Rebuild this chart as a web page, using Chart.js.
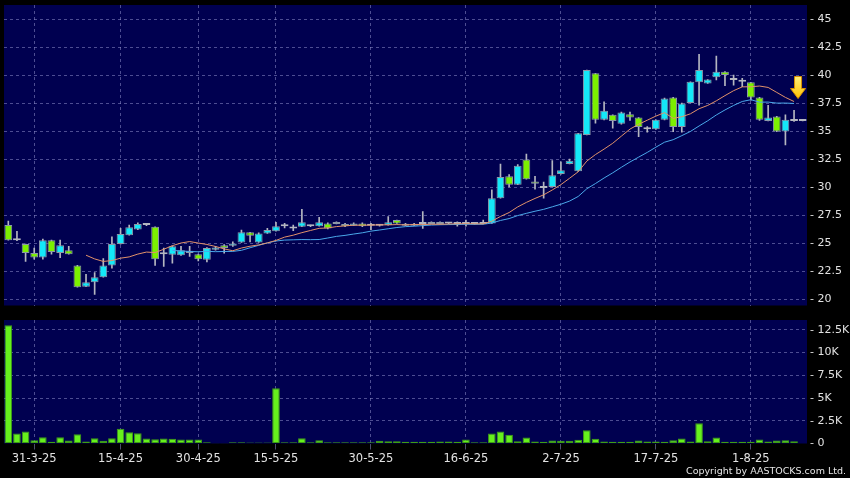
<!DOCTYPE html>
<html>
<head>
<meta charset="utf-8">
<script src="https://cdn.jsdelivr.net/npm/chart.js@4.4.1/dist/chart.umd.min.js"></script>
<style>
  html, body { margin: 0; padding: 0; background: #000; }
  #wrap { position: relative; width: 850px; height: 478px; overflow: hidden; background: #000; }
  #boxHarga { position: absolute; left: 0; top: 0; }
  #boxVolume { position: absolute; left: 0; top: 312px; }
  #copy { position: absolute; right: 4px; top: 465px; color: #e6e6e6;
          font: 9.5px "DejaVu Sans", sans-serif; line-height: 12px; white-space: nowrap; }
</style>
</head>
<body>
<div id="wrap">
  <canvas id="boxHarga" width="850" height="310"></canvas>
  <canvas id="boxVolume" width="850" height="166"></canvas>
  <div id="copy">Copyright by AASTOCKS.com Ltd.</div>
</div>
<script>
// ============================================
// DATA: candle harian (HK), 26-3-25 s/d 11-8-25
// ============================================
const tanggal = [
  "26-3-25","27-3-25","28-3-25","31-3-25",
  "1-4-25","2-4-25","3-4-25","7-4-25","8-4-25","9-4-25","10-4-25","11-4-25","14-4-25","15-4-25",
  "16-4-25","17-4-25","22-4-25","23-4-25","24-4-25","25-4-25","28-4-25","29-4-25","30-4-25",
  "2-5-25","6-5-25","7-5-25","8-5-25","9-5-25","12-5-25","13-5-25","14-5-25","15-5-25",
  "16-5-25","19-5-25","20-5-25","21-5-25","22-5-25","23-5-25","26-5-25","27-5-25","28-5-25","29-5-25","30-5-25",
  "2-6-25","3-6-25","4-6-25","5-6-25","6-6-25","9-6-25","10-6-25","11-6-25","12-6-25","13-6-25","16-6-25",
  "17-6-25","18-6-25","19-6-25","20-6-25","23-6-25","24-6-25","25-6-25","26-6-25","27-6-25","30-6-25",
  "2-7-25","3-7-25","4-7-25","7-7-25","8-7-25","9-7-25","10-7-25","11-7-25","14-7-25","15-7-25","16-7-25","17-7-25",
  "18-7-25","21-7-25","22-7-25","23-7-25","24-7-25","25-7-25","28-7-25","29-7-25","30-7-25","31-7-25",
  "1-8-25","4-8-25","5-8-25","6-8-25","7-8-25","8-8-25","11-8-25"
];

const tanggalTick = ["31-3-25","15-4-25","30-4-25","15-5-25","30-5-25","16-6-25","2-7-25","17-7-25","1-8-25"];

const openHarga = [
  26.6, 25.25, 24.9, 24.1, 23.7, 25.25, 24.1, 24.35, 23.0, 21.1,
  21.5, 21.95, 23.0, 24.9, 25.7, 26.2, 26.6, 26.45, 24.0, 23.95,
  23.9, 24.1, 24.0, 23.5, 24.4, 24.8, 24.75, 25.05, 25.95, 25.05,
  25.85, 26.05, 26.5, 26.3, 26.45, 26.5, 26.5, 26.75, 26.7, 26.7,
  26.55, 26.75, 26.55, 26.55, 26.6, 27.05, 26.7, 26.55, 26.7, 26.7,
  26.85, 26.75, 26.7, 26.7, 26.7, 26.7, 26.75, 29.0, 30.95, 30.2,
  32.45, 30.5, 29.9, 30.0, 31.15, 32.05, 31.4, 34.65, 40.15, 36.0,
  36.45, 35.65, 36.5, 36.2, 35.15, 35.15, 36.0, 38.0, 35.35, 37.5,
  39.35, 39.25, 39.8, 40.3, 39.55, 39.4, 39.35, 38.0, 35.9, 36.3,
  34.95, 35.9, 35.9
];
const highHarga = [
  26.95, 26.05, 24.9, 24.55, 25.35, 25.25, 25.25, 24.7, 23.0, 22.2,
  22.35, 23.6, 25.55, 26.3, 26.6, 26.8, 26.65, 26.45, 24.55, 24.75,
  24.7, 24.7, 24.0, 24.6, 24.7, 24.85, 25.1, 26.15, 25.95, 25.9,
  26.3, 26.85, 26.75, 26.6, 28.0, 26.6, 27.3, 26.8, 26.9, 26.75,
  26.8, 26.8, 26.75, 26.6, 27.35, 27.05, 26.75, 26.75, 27.8, 26.9,
  26.9, 26.8, 26.9, 27.05, 26.75, 27.05, 29.75, 32.05, 31.1, 32.0,
  32.95, 30.95, 30.45, 32.35, 32.25, 32.5, 34.8, 40.45, 40.15, 37.6,
  36.45, 36.7, 36.7, 36.2, 35.4, 36.0, 37.95, 38.0, 37.5, 39.4,
  41.85, 39.6, 41.7, 40.3, 40.0, 39.7, 39.35, 38.0, 37.3, 36.3,
  36.45, 36.85, 35.9
];
const lowHarga = [
  25.25, 25.2, 23.35, 23.55, 23.55, 24.0, 23.7, 24.0, 21.05, 21.1,
  20.4, 21.95, 22.75, 24.9, 25.7, 26.2, 26.55, 23.0, 22.9, 23.2,
  23.9, 23.8, 23.4, 23.3, 24.35, 24.1, 24.7, 25.05, 25.1, 25.05,
  25.85, 26.05, 26.35, 26.1, 26.45, 26.45, 26.5, 26.25, 26.7, 26.45,
  26.55, 26.45, 26.2, 26.5, 26.6, 26.75, 26.55, 26.55, 26.3, 26.7,
  26.7, 26.7, 26.5, 26.5, 26.65, 26.7, 26.75, 29.0, 30.0, 30.2,
  30.7, 29.8, 29.0, 30.0, 31.15, 32.05, 31.4, 34.65, 35.7, 36.0,
  35.25, 35.6, 35.95, 34.5, 34.9, 35.15, 36.0, 34.95, 34.9, 37.5,
  37.3, 39.25, 39.55, 39.05, 39.1, 38.95, 37.75, 35.95, 35.9, 34.95,
  33.75, 35.85, 35.9
];
const closeHarga = [
  25.25, 25.25, 24.1, 23.7, 25.25, 24.2, 24.8, 24.0, 21.05, 21.5,
  21.95, 23.0, 24.9, 25.8, 26.4, 26.7, 26.6, 23.55, 24.0, 24.7,
  24.35, 24.3, 23.55, 24.55, 24.6, 24.55, 24.95, 25.95, 25.65, 25.85,
  26.15, 26.5, 26.5, 26.3, 26.85, 26.5, 26.85, 26.3, 26.85, 26.5,
  26.75, 26.5, 26.55, 26.55, 26.85, 26.75, 26.55, 26.7, 26.7, 26.85,
  26.7, 26.75, 26.7, 26.7, 26.7, 26.7, 29.0, 30.9, 30.2, 31.9,
  30.7, 30.3, 29.9, 31.05, 31.5, 32.35, 34.8, 40.45, 36.0, 36.8,
  35.9, 36.65, 36.2, 35.35, 35.15, 36.0, 37.9, 35.35, 37.45, 39.4,
  40.45, 39.6, 40.3, 40.0, 39.55, 39.4, 38.0, 36.0, 36.2, 34.95,
  36.0, 35.9, 35.9
];

// volume dalam ribuan saham (hari terakhir belum ada transaksi)
const volumeK = [
  13.0, 1.1, 1.32, 0.36, 0.69, 0.18, 0.69, 0.33, 1.02, 0.22,
  0.58, 0.29, 0.58, 1.61, 1.24, 1.13, 0.55, 0.47, 0.55, 0.51,
  0.44, 0.44, 0.44, 0.14, 0.04, 0.04, 0.14, 0.14, 0.1, 0.1,
  0.1, 6.09, 0.14, 0.14, 0.58, 0.14, 0.36, 0.14, 0.14, 0.14,
  0.14, 0.14, 0.14, 0.29, 0.25, 0.25, 0.18, 0.18, 0.18, 0.18,
  0.22, 0.22, 0.18, 0.44, 0.14, 0.14, 1.1, 1.32, 0.95, 0.25,
  0.66, 0.22, 0.18, 0.33, 0.29, 0.29, 0.4, 1.46, 0.51, 0.22,
  0.18, 0.18, 0.18, 0.33, 0.22, 0.22, 0.18, 0.36, 0.55, 0.22,
  2.24, 0.25, 0.66, 0.18, 0.18, 0.18, 0.18, 0.44, 0.22, 0.33,
  0.36, 0.25
];

const hargaTicks = [20, 22.5, 25, 27.5, 30, 32.5, 35, 37.5, 40, 42.5, 45];
const volumeTicks = [0, 2.5, 5, 7.5, 10, 12.5];

// ============================================
// STYLE
// ============================================
const WARNA_PLOT = "#000050";
const WARNA_GRID = "rgba(140,140,200,0.55)";
const WARNA_TEKS = "#e2e2e2";
const CYAN = "#14e8f8";
const HIJAU = "#7cf000";
const ABU = "#b4b6c0";
const FONT_Y = { family: "DejaVu Sans", size: 11 };
const FONT_X = { family: "DejaVu Sans", size: 11.5 };

// rata-rata bergerak dari harga penutupan (hanya hari yang ada transaksi)
function hitungSMA(n) {
  return closeHarga.map((_, i) => {
    if (i < n - 1 || i >= volumeK.length) return null;
    let total = 0;
    for (let k = i - n + 1; k <= i; k++) total += closeHarga[k];
    return total / n;
  });
}
const sma10 = hitungSMA(10);
const sma20 = hitungSMA(20);

const bodyData = openHarga.map((o, i) => [o, closeHarga[i]]);
const wickData = lowHarga.map((l, i) => [l, highHarga[i]]);
const bodyWarna = openHarga.map((o, i) => closeHarga[i] > o ? CYAN : closeHarga[i] < o ? HIJAU : ABU);
const bodyGaris = openHarga.map((o, i) => closeHarga[i] === o ? ABU : "#8c98a8");

const setTick = new Set(tanggalTick);
const warnaGridX = (c) => (c.tick && setTick.has(tanggal[c.tick.value])) ? WARNA_GRID : "rgba(0,0,0,0)";

// sumbu y kanan: lebar tetap, tanpa padding label di atas/bawah
const pasSumbuY = (s) => { s.width = 43; s.paddingTop = 0; s.paddingBottom = 0; };

// latar biru tua area plot
const latarPlot = {
  id: "latarPlot",
  beforeDraw(chart) {
    const { ctx, chartArea: a } = chart;
    ctx.save();
    ctx.fillStyle = WARNA_PLOT;
    ctx.fillRect(a.left, a.top, a.right - a.left, a.bottom - a.top);
    ctx.restore();
  }
};

// panah kuning di ujung garis rata-rata
const panahAkhir = {
  id: "panahAkhir",
  afterDatasetsDraw(chart) {
    const meta = chart.getDatasetMeta(0);
    let titik = null;
    meta.data.forEach((p, i) => { if (sma10[i] !== null) titik = p; });
    if (!titik) return;
    const ctx = chart.ctx;
    const cx = titik.x + 4, tip = titik.y - 3;
    const g = ctx.createLinearGradient(0, tip - 22, 0, tip);
    g.addColorStop(0, "#fff07a");
    g.addColorStop(1, "#ffc000");
    ctx.save();
    ctx.beginPath();
    ctx.moveTo(cx - 3.5, tip - 22);
    ctx.lineTo(cx + 3.5, tip - 22);
    ctx.lineTo(cx + 3.5, tip - 10);
    ctx.lineTo(cx + 7.5, tip - 10);
    ctx.lineTo(cx, tip);
    ctx.lineTo(cx - 7.5, tip - 10);
    ctx.lineTo(cx - 3.5, tip - 10);
    ctx.closePath();
    ctx.fillStyle = g;
    ctx.fill();
    ctx.strokeStyle = "#d89000";
    ctx.lineWidth = 1;
    ctx.stroke();
    ctx.restore();
  }
};

// ============================================
// CHART HARGA (candlestick dari floating bar)
// ============================================
new Chart(document.getElementById("boxHarga"), {
  type: "bar",
  data: {
    labels: tanggal,
    datasets: [
      { type: "line", label: "SMA10", data: sma10, borderColor: "#e2926a", borderWidth: 1,
        pointRadius: 0, tension: 0, order: 0 },
      { type: "line", label: "SMA20", data: sma20, borderColor: "#4aa8ea", borderWidth: 1,
        pointRadius: 0, tension: 0, order: 1 },
      { label: "Body", data: bodyData, backgroundColor: bodyWarna, borderColor: bodyGaris,
        borderWidth: 1, borderSkipped: false, grouped: false, minBarLength: 2,
        barPercentage: 0.9, categoryPercentage: 1, order: 2 },
      { label: "Wick", data: wickData, backgroundColor: ABU, borderWidth: 0,
        barThickness: 1, grouped: false, order: 3 },
    ],
  },
  options: {
    responsive: false,
    animation: false,
    layout: { padding: { left: 4, top: 5, right: 0, bottom: 4.5 } },
    plugins: { legend: { display: false }, tooltip: { enabled: false } },
    scales: {
      x: {
        offset: true,
        grid: { offset: false, color: warnaGridX, drawTicks: false },
        border: { display: false, dash: [3, 3] },
        ticks: { display: false, autoSkip: false },
        afterFit: (s) => { s.height = 0; s.paddingLeft = 0; s.paddingRight = 0; },
      },
      y: {
        position: "right",
        min: 19.42,
        max: 46.25,
        afterBuildTicks: (s) => { s.ticks = hargaTicks.map((v) => ({ value: v })); },
        grid: { color: WARNA_GRID, drawTicks: false },
        border: { display: false, dash: [3, 3] },
        ticks: { color: WARNA_TEKS, font: FONT_Y, padding: 3, callback: (v) => "- " + v },
        afterFit: pasSumbuY,
      },
    },
  },
  plugins: [latarPlot, panahAkhir],
});

// ============================================
// CHART VOLUME
// ============================================
new Chart(document.getElementById("boxVolume"), {
  type: "bar",
  data: {
    labels: tanggal,
    datasets: [{
      label: "Volume", data: volumeK, backgroundColor: "#66f01c", borderColor: "#3f9e14",
      borderWidth: 1, borderSkipped: false, barPercentage: 0.88, categoryPercentage: 1,
    }],
  },
  options: {
    responsive: false,
    animation: false,
    layout: { padding: { left: 4, top: 8, right: 0, bottom: 0 } },
    plugins: { legend: { display: false }, tooltip: { enabled: false } },
    scales: {
      x: {
        offset: true,
        grid: { offset: false, color: warnaGridX, tickColor: warnaGridX, tickLength: 6 },
        border: { display: false, dash: [3, 3] },
        ticks: {
          autoSkip: false, maxRotation: 0, minRotation: 0, padding: 3,
          color: WARNA_TEKS, font: FONT_X,
          callback: (v, i) => setTick.has(tanggal[i]) ? tanggal[i] : "",
        },
        afterFit: (s) => { s.height = 34.5; s.paddingLeft = 0; s.paddingRight = 0; },
      },
      y: {
        position: "right",
        min: 0,
        max: 13.59,
        afterBuildTicks: (s) => { s.ticks = volumeTicks.map((v) => ({ value: v })); },
        grid: { color: (c) => c.tick && c.tick.value === 0 ? "rgba(0,0,0,0)" : WARNA_GRID, drawTicks: false },
        border: { display: false, dash: [3, 3] },
        ticks: { color: WARNA_TEKS, font: FONT_Y, padding: 3,
                 callback: (v) => v === 0 ? "- 0" : "- " + v + "K" },
        afterFit: pasSumbuY,
      },
    },
  },
  plugins: [latarPlot],
});
</script>
</body>
</html>
